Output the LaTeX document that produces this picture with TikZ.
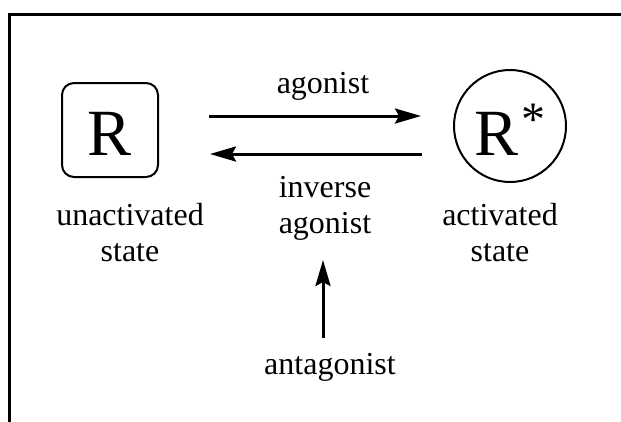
\documentclass[tikz,border=0pt]{standalone}
\usepackage{fontspec}
\setmainfont{Liberation Serif}
\usetikzlibrary{arrows.meta}
\begin{document}
\begin{tikzpicture}[x=1pt,y=-1pt,
  lbl/.style={font=\fontsize{32}{36}\selectfont, align=center, inner sep=0pt},
  arr/.style={line width=3pt, -{Stealth[length=26pt,width=15pt,inset=4pt]}},
  frame/.style={line width=2.5pt}]
\useasboundingbox (0,0) rectangle (621,421);
\clip (0,0) rectangle (621,421);
\draw[frame] (9.5,430) -- (9.5,14.5) -- (630,14.5);
% receptor states
\node[draw, line width=2pt, rounded corners=12pt, minimum width=96pt, minimum height=94pt,
      inner sep=0pt, text height=50pt, text depth=0pt,
      font=\fontsize{66}{66}\selectfont] (r) at (110,130) {R};
\node[draw, circle, line width=2pt, minimum size=112pt, inner sep=0pt,
      text height=58pt, text depth=0pt,
      font=\fontsize{66}{66}\selectfont] (rs) at (510,126) {R\kern2pt{\fontsize{48}{48}\selectfont\raisebox{20pt}{*}}};
% labels
\node[lbl] (ua) at (130,233) {unactivated\\state};
\node[lbl] (ac) at (500,233) {activated\\state};
\node[lbl] (ag) at (323,86.5) {agonist};
\node[lbl] (ia) at (325,208) {inverse\\agonist};
\node[lbl] (an) at (330,367.5) {antagonist};
% arrow ends
\coordinate (a1s) at (209,116);
\coordinate (a1e) at (421,116);
\coordinate (a2s) at (422,154);
\coordinate (a2e) at (210,154);
\coordinate (a3s) at (323,338);
\coordinate (a3e) at (323,260);
\draw[arr] (a1s) -- (a1e);
\draw[arr] (a2s) -- (a2e);
\draw[arr] (a3s) -- (a3e);
\end{tikzpicture}
\end{document}
